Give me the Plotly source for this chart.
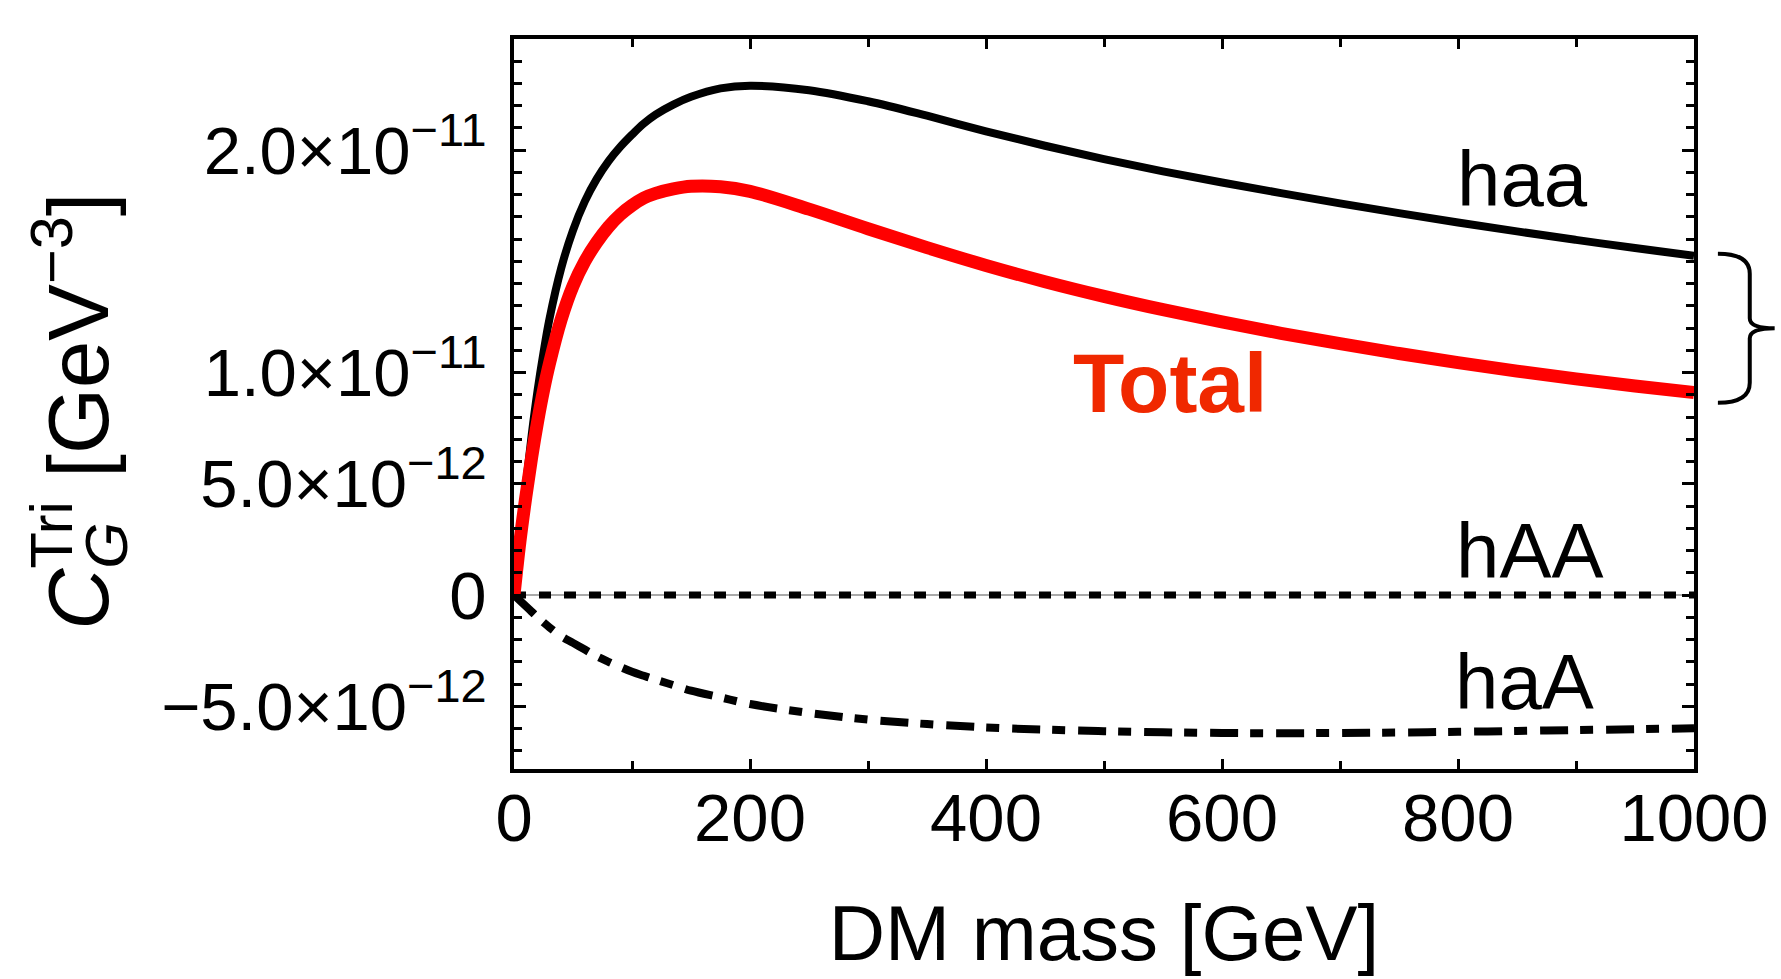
import plotly.graph_objects as go

# DM mass grid [GeV]
mass = [0, 5, 10, 15, 20, 25, 30, 40, 50, 60, 70, 80, 90, 100, 110, 120, 135,
        150, 175, 200, 250, 300, 350, 400, 450, 500, 550, 600, 650, 700, 750,
        800, 850, 900, 950, 1000]

# Triangle-loop gluon coefficients, in units of 1e-11 GeV^-3
haa = [0, 0.25, 0.49, 0.72, 0.92, 1.09, 1.24, 1.47, 1.64, 1.77, 1.87, 1.95,
       2.015, 2.07, 2.12, 2.16, 2.205, 2.24, 2.278, 2.29, 2.27, 2.22, 2.155,
       2.085, 2.02, 1.96, 1.905, 1.855, 1.807, 1.761, 1.717, 1.675, 1.635,
       1.597, 1.56, 1.525]
total = [0, 0.24, 0.44, 0.62, 0.78, 0.92, 1.04, 1.24, 1.39, 1.50, 1.585, 1.655,
         1.71, 1.752, 1.785, 1.806, 1.826, 1.838, 1.836, 1.815, 1.735, 1.647,
         1.562, 1.482, 1.409, 1.343, 1.283, 1.228, 1.177, 1.130, 1.086, 1.045,
         1.007, 0.972, 0.940, 0.910]
haA = [0, -0.025, -0.05, -0.075, -0.10, -0.123, -0.145, -0.185, -0.215, -0.245,
       -0.275, -0.30, -0.323, -0.345, -0.363, -0.38, -0.405, -0.43, -0.46,
       -0.49, -0.53, -0.56, -0.58, -0.595, -0.605, -0.612, -0.617, -0.62,
       -0.621, -0.62, -0.618, -0.615, -0.611, -0.607, -0.603, -0.599]
hAA = [0.0] * len(mass)

SCALE = 1e-11

# axis ticks
x_ticks = [0, 200, 400, 600, 800, 1000]
y_ticks = [-0.5, 0, 0.5, 1.0, 2.0]
y_ticktext = ["−5.0×10<sup>−12</sup>", "0", "5.0×10<sup>−12</sup>",
              "1.0×10<sup>−11</sup>", "2.0×10<sup>−11</sup>"]

FONT = "Liberation Sans"
W, H = 1781, 979
ML, MR, MT, MB = 514, 82, 39, 210
PW, PH = W - ML - MR, H - MT - MB


def sc(vals):
    return [v * SCALE for v in vals]


def px_x(p):
    """pixel column -> paper x"""
    return (p - ML) / PW


def px_y(p):
    """pixel row -> paper y"""
    return (H - MB - p) / PH


fig = go.Figure()

fig.add_trace(go.Scatter(
    x=mass, y=sc(hAA), mode="lines", name="hAA",
    line=dict(color="black", width=7, dash="12px,13px")))
fig.add_trace(go.Scatter(
    x=mass, y=sc(haA), mode="lines", name="haA",
    line=dict(color="black", width=8, dash="28px,12px,13px,13px",
              shape="spline", smoothing=1.0)))
fig.add_trace(go.Scatter(
    x=mass, y=sc(haa), mode="lines", name="haa",
    line=dict(color="black", width=8, shape="spline", smoothing=1.0)))
fig.add_trace(go.Scatter(
    x=mass, y=sc(total), mode="lines", name="Total",
    line=dict(color="#ff0000", width=13, shape="spline", smoothing=1.0)))

label_font = dict(family=FONT, size=78, color="black")
annotations = [
    dict(x=855, y=1.87 * SCALE, text="haa", font=label_font),
    dict(x=861, y=0.20 * SCALE, text="hAA", font=label_font),
    dict(x=856, y=-0.39 * SCALE, text="haA", font=label_font),
    dict(x=556, y=0.955 * SCALE, text="<b>Total</b>",
         font=dict(family=FONT, size=84, color="#f02800")),
]
for a in annotations:
    a.update(xref="x", yref="y", showarrow=False,
             xanchor="center", yanchor="middle")

# y-axis title: C^Tri with stacked subscript G, then the unit
annotations.append(dict(
    xref="paper", yref="paper", x=px_x(70), y=px_y(411), showarrow=False,
    textangle=-90, xanchor="center", yanchor="middle",
    text="<i>C</i><sup>Tri</sup> [GeV<sup>−3</sup>]",
    font=dict(family=FONT, size=85, color="black")))
annotations.append(dict(
    xref="paper", yref="paper", x=px_x(104), y=px_y(545), showarrow=False,
    textangle=-90, xanchor="center", yanchor="middle",
    text="<i>G</i>", font=dict(family=FONT, size=60, color="black")))

# curly brace grouping the haa and Total end values
yt = haa[-1] * SCALE + 0.01 * SCALE
yb = total[-1] * SCALE - 0.045 * SCALE
ym = 0.5 * (yt + yb)
r_end = 0.09 * SCALE
r_mid = 0.045 * SCALE
x0, x1, x2 = px_x(1723), px_x(1755), px_x(1780)
brace = (f"M {x0},{yt} Q {x1},{yt} {x1},{yt - r_end} "
         f"L {x1},{ym + r_mid} Q {x1},{ym} {x2},{ym} "
         f"Q {x1},{ym} {x1},{ym - r_mid} "
         f"L {x1},{yb + r_end} Q {x1},{yb} {x0},{yb}")

fig.update_layout(
    width=W, height=H,
    margin=dict(l=ML, r=MR, t=MT, b=MB),
    paper_bgcolor="white", plot_bgcolor="white",
    showlegend=False,
    font=dict(family=FONT, size=67, color="black"),
    annotations=annotations,
    shapes=[dict(type="path", path=brace, xref="paper", yref="y",
                 line=dict(color="black", width=4))],
    xaxis=dict(
        range=[0, 1000], tickmode="array", tickvals=x_ticks,
        ticks="inside", ticklen=10, tickwidth=3, tickcolor="black",
        showline=True, linewidth=4, linecolor="black", mirror="ticks",
        showgrid=False, zeroline=False, ticklabelstandoff=-12,
        tickfont=dict(family=FONT, size=67, color="black"),
        minor=dict(tickmode="linear", tick0=0, dtick=100, ticks="inside",
                   ticklen=8, tickwidth=3, tickcolor="black"),
        title=dict(text="DM mass [GeV]", standoff=52,
                   font=dict(family=FONT, size=78, color="black")),
    ),
    yaxis=dict(
        range=[-0.782 * SCALE, 2.5 * SCALE], tickmode="array",
        tickvals=[v * SCALE for v in y_ticks], ticktext=y_ticktext,
        ticks="inside", ticklen=12, tickwidth=3, tickcolor="black",
        showline=True, linewidth=4, linecolor="black", mirror="ticks",
        showgrid=False, zeroline=True, zerolinecolor="#aaaaaa",
        zerolinewidth=2, ticklabelstandoff=10,
        tickfont=dict(family=FONT, size=67, color="black"),
        minor=dict(tickmode="linear", tick0=0, dtick=0.1 * SCALE,
                   ticks="inside", ticklen=8, tickwidth=3,
                   tickcolor="black"),
    ),
)

fig.write_html("out.html")
